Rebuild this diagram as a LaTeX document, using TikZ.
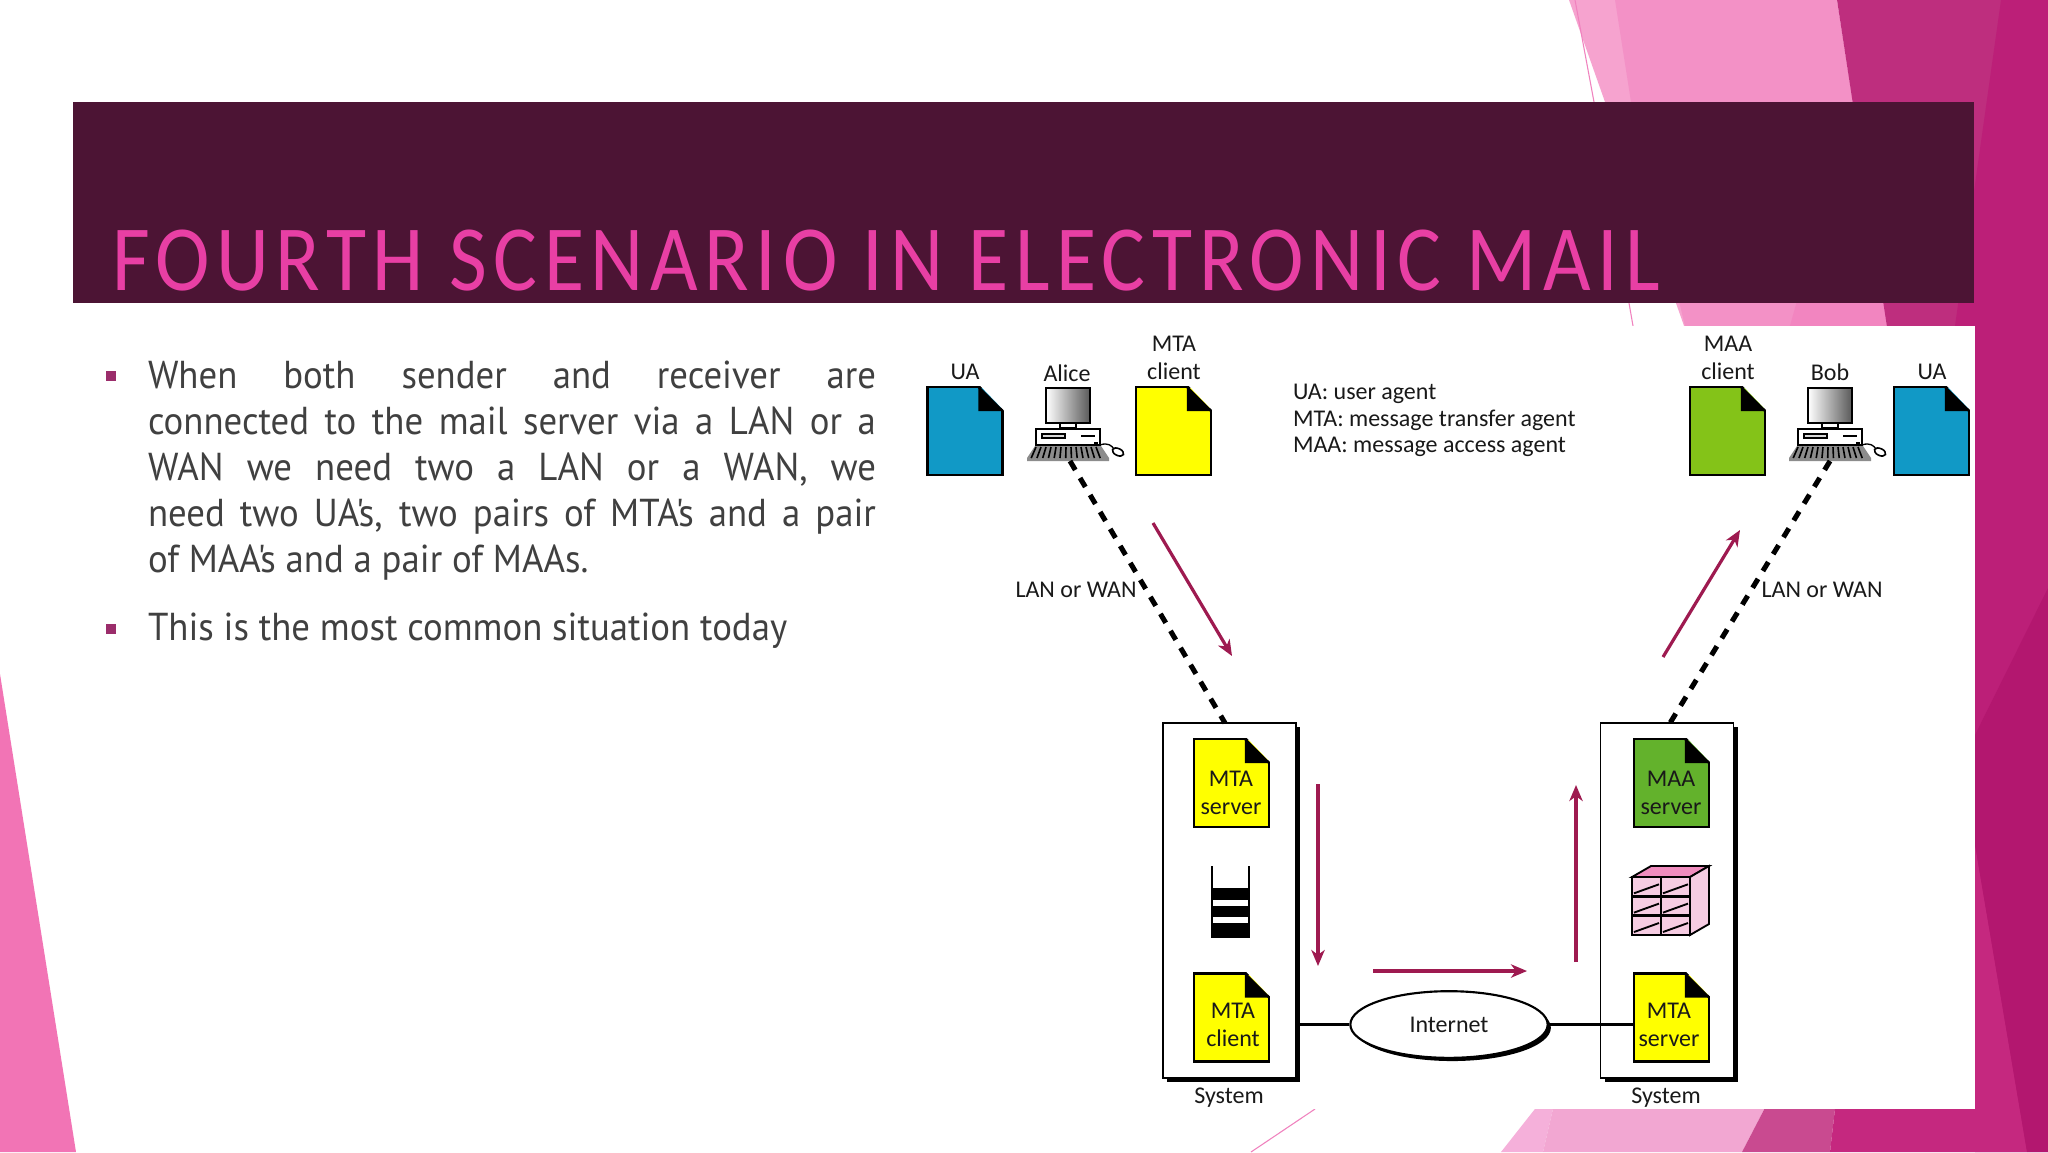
\documentclass[tikz,border=0pt]{standalone}
\usepackage{fontspec}
\usetikzlibrary{arrows.meta,calc,shadows,shapes.geometric}
\setmainfont{Carlito}
\newfontfamily\titlefont[LetterSpace=7.1,FakeStretch=0.88,Ligatures=NoCommon]{Carlito}
\newfontfamily\bodyfont[FakeStretch=0.945,Ligatures=NoCommon]{PT Sans}

\definecolor{bannerdark}{HTML}{4C1434}
\definecolor{titlepink}{HTML}{E83FA4}
\definecolor{bodygrey}{HTML}{404040}
\definecolor{bulletred}{HTML}{9B2D6B}
\definecolor{arrowred}{HTML}{9E1A50}
\definecolor{uablue}{HTML}{1199C6}
\definecolor{docyellow}{HTML}{FFFF00}
\definecolor{clientgreen}{HTML}{84C318}
\definecolor{servergreen}{HTML}{63B22C}
\definecolor{shelfpink}{HTML}{F6CCE2}
\definecolor{lidpink}{HTML}{F08CBE}

\tikzset{every picture/.style={line width=0.75pt}}
\tikzset{
  docfile/.style={draw=black,line width=0.9pt,minimum width=28.1pt,minimum height=33pt,inner sep=0pt,outer sep=0pt},
  systembox/.style={draw=black,fill=white,line width=0.7pt,minimum width=49.9pt,minimum height=133.1pt,inner sep=0pt,outer sep=0pt,
    drop shadow={shadow xshift=1.6pt,shadow yshift=-1.6pt,opacity=1,fill=black}},
  lbl/.style={inner sep=0pt,font=\fontsize{9}{10.6}\selectfont,text=black!90},
  redarrow/.style={draw=arrowred,line width=1.2pt,-{Stealth[length=6pt,width=5pt,inset=1.8pt]}},
  lanline/.style={line width=1.9pt,dash pattern=on 3.9pt off 3.5pt},
  bodytext/.style={anchor=north west,inner sep=0pt,text width=273pt,align=justify,text=bodygrey,
    font=\bodyfont\fontsize{14.6}{17.25}\selectfont},
  bulletmark/.style={fill=bulletred,minimum size=4.1pt,inner sep=0pt},
  computer/.pic={
    \draw[line width=0.9pt,left color=white,right color=black!65] (-22,0) rectangle (22,35);
    \draw[line width=0.6pt,fill=white] (-8,35) rectangle (8,40);
    \draw[line width=0.7pt,fill=white] (-32,41) rectangle (32,57);
    \draw[line width=0.5pt,fill=black!15] (-26,46) rectangle (-3,50);
    \fill (13,47) rectangle (27,49);
    \fill (26,54) rectangle (30,57);
    \fill[black!45] (-33,58) -- (33,58) -- (41,70) -- (41,73) -- (-41,73) -- (-41,70) -- cycle;
    \foreach \keyx in {-32,-27,...,32}
      {\draw[line width=0.6pt] (\keyx,59) -- (\keyx*1.15,70);}
    \draw[line width=0.5pt] (32,57) .. controls (40,54) and (44,58) .. (46,61);
    \draw[line width=0.6pt,fill=white,rotate around={25:(50,64)}] (50,64) ellipse (6 and 3.5);
  }
}
\newcommand{\docfold}[1]{%
  \fill[white] ($(#1.north east)+(-23,-2)$) -- ($(#1.north east)+(2,-2)$) -- ($(#1.north east)+(2,24)$) -- cycle;
  \fill[black] ($(#1.north east)+(-24,0)$) -- ($(#1.north east)+(0.5,24)$) -- ($(#1.north east)+(-24,24)$) -- cycle;
  \draw[line width=0.9pt] ($(#1.north east)+(-24,0)$) -- ($(#1.north east)+(0,24)$);
}

\begin{document}
\begin{tikzpicture}[x=0.375pt,y=0.375pt,yscale=-1]
\useasboundingbox (0,0) rectangle (2048,1152);
%Slide background
\fill[white] (0,0) rectangle (2048,1152);
\fill[fill={rgb,255:red,242;green,116;blue,181}] (0,674) -- (76,1152) -- (0,1152) -- cycle;
%Top right corner
\fill[fill={rgb,255:red,246;green,163;blue,207}] (1569,0) -- (1620,0) -- (1690,340) -- (1689,340) -- cycle;
\fill[fill={rgb,255:red,243;green,145;blue,198}] (1615,0) -- (1837,0) -- (1890,340) -- (1685,326) -- (1631,102) -- cycle;
\fill[fill={rgb,255:red,242;green,133;blue,192}] (1800,290) -- (1900,290) -- (1900,340) -- (1786,340) -- cycle;
\fill[fill={rgb,255:red,190;green,46;blue,126}] (1837,0) -- (2048,0) -- (2048,340) -- (1889,340) -- cycle;
\fill[fill={rgb,255:red,188;green,31;blue,120}] (2001,0) -- (2048,0) -- (2048,1152) -- (1975,1152) -- (1975,340) -- (1953,340) -- cycle;
\draw[line width=0.4pt,draw={rgb,255:red,240;green,130;blue,190}] (1575,0) -- (1594,102) -- (1633,326);
%Bottom right corner
\fill[fill={rgb,255:red,245;green,176;blue,218}] (1501,1152) -- (1542,1100) -- (1555,1100) -- (1543,1152) -- cycle;
\fill[fill={rgb,255:red,242;green,167;blue,210}] (1543,1152) -- (1555,1100) -- (1769,1100) -- (1742,1152) -- cycle;
\fill[fill={rgb,255:red,201;green,74;blue,144}] (1742,1152) -- (1769,1100) -- (1836,1100) -- (1830,1152) -- cycle;
\fill[fill={rgb,255:red,197;green,40;blue,127}] (1830,1152) -- (1836,1100) -- (1975,1100) -- (1975,845) -- (2027,1152) -- cycle;
\fill[fill={rgb,255:red,179;green,23;blue,111}] (2048,588) -- (1975,735) -- (1975,845) -- (2027,1152) -- (2048,1152) -- cycle;
\draw[line width=0.4pt,draw={rgb,255:red,240;green,130;blue,190}] (1315,1109) -- (1251,1152);
%Banner and panel
\fill[bannerdark] (73,102) rectangle (1974,303);
\fill[white] (920,326) rectangle (1975,1109);

% Title
\node[anchor=base west,inner sep=0pt,text=titlepink,font=\titlefont\fontsize{35}{40}\selectfont] (slideTitle) at (111,290) {FOURTH SCENARIO IN ELECTRONIC MAIL};

% Bullets
\node[bulletmark] (bulletOne) at (111,376) {};
\node[bodytext] (bodyOne) at (147,360) {When both sender and receiver are\linebreak connected to the mail server via a LAN or a\linebreak WAN we need two a LAN or a WAN, we\linebreak need two UA'\kern-2pt s, two pairs of MTA'\kern-2pt s and a pair\linebreak of MAA'\kern-2pt s and a pair of MAAs.};
\node[bulletmark] (bulletTwo) at (111,629) {};
\node[bodytext] (bodyTwo) at (147,612) {This is the most common situation today};

%Documents
\node[systembox] (sysLeft) at (1229.5,900.5) {};
\node[systembox] (sysRight) at (1667,900.5) {};
\node[docfile,fill=uablue] (uaLeft) at (965,431) {};
\node[docfile,fill=docyellow] (mtaClientTop) at (1173.5,431) {};
\node[docfile,fill=clientgreen] (maaClient) at (1727.5,431) {};
\node[docfile,fill=uablue] (uaRight) at (1931.5,431) {};
\node[docfile,fill=docyellow] (mtaServerLeft) at (1231.5,783) {};
\node[docfile,fill=docyellow] (mtaClientLeft) at (1231.5,1017.5) {};
\node[docfile,fill=servergreen] (maaServer) at (1671.5,783) {};
\node[docfile,fill=docyellow] (mtaServerRight) at (1671.5,1017.5) {};
\foreach \docname in {uaLeft,mtaClientTop,maaClient,uaRight,mtaServerLeft,mtaClientLeft,maaServer,mtaServerRight}
  {\docfold{\docname}}

%Computers
\pic[yscale=-1] at (1068,388) {computer};
\pic[yscale=-1] at (1830,388) {computer};

%Queue
\draw[line width=0.9pt] (1212,866) -- (1212,937) -- (1249,937) -- (1249,866);
\fill (1212,888) rectangle (1249,900);
\fill (1212,906) rectangle (1249,917);
\fill (1212,923) rectangle (1249,937);

%Mailbox cabinet
\draw[line width=0.7pt,fill=shelfpink] (1632,877) rectangle (1690,935);
\draw[line width=0.7pt,fill=lidpink] (1632,877) -- (1651,866) -- (1709,866) -- (1690,877) -- cycle;
\draw[line width=0.7pt,fill=shelfpink] (1690,877) -- (1709,866) -- (1709,924) -- (1690,935) -- cycle;
\foreach \shelfy in {896.3,915.6}
  {\draw[line width=0.9pt] (1632,\shelfy) -- (1690,\shelfy);}
\draw[line width=0.9pt] (1661,877) -- (1661,935);
\foreach \shelfy in {896.3,915.6,935} {
  \draw[line width=0.7pt] (1634,\shelfy-3) -- (1659,\shelfy-12);
  \draw[line width=0.7pt] (1663,\shelfy-3) -- (1688,\shelfy-12);
}

%Internet
\node[ellipse,draw=black,fill=white,line width=0.8pt,minimum width=74pt,minimum height=25pt,inner sep=0pt,
  drop shadow={shadow xshift=1.2pt,shadow yshift=-1.2pt,opacity=1,fill=black},lbl] (internet) at (1449,1024.5) {Internet};
\draw[line width=0.8pt] (internet.west) -- (internet.west -| sysLeft.east);
\draw[line width=0.8pt] (internet.east) -- (internet.east -| mtaServerRight.west);

%Lines to the computers
\coordinate (alicePc) at (1070,461);
\coordinate (bobPc) at (1830,461);
\coordinate (sysLeftTop) at (1225,723);
\coordinate (sysRightTop) at (1670,723);
\draw[lanline] (alicePc) -- (sysLeftTop);
\draw[lanline] (bobPc) -- (sysRightTop);

%Flow arrows
\coordinate (flowA) at (1153,523); \coordinate (flowB) at (1232,656);
\coordinate (flowC) at (1318,784); \coordinate (flowD) at (1318,966);
\coordinate (flowE) at (1373,971); \coordinate (flowF) at (1527,971);
\coordinate (flowG) at (1576,962); \coordinate (flowH) at (1576,785);
\coordinate (flowI) at (1663,657); \coordinate (flowJ) at (1740,530);
\draw[redarrow] (flowA) -- (flowB);
\draw[redarrow] (flowC) -- (flowD);
\draw[redarrow] (flowE) -- (flowF);
\draw[redarrow] (flowG) -- (flowH);
\draw[redarrow] (flowI) -- (flowJ);

% Text Node
\node[lbl] (uaLeftLbl) at (965,372) {UA};
\node[lbl] (aliceLbl) at (1067,373) {Alice};
\node[lbl,align=center] (mtaClientTopLbl) at (1174,358) {MTA\\client};
\node[lbl,align=center] (maaClientLbl) at (1728,358) {MAA\\client};
\node[lbl] (bobLbl) at (1830,372) {Bob};
\node[lbl] (uaRightLbl) at (1932,372) {UA};
\node[lbl,align=center] (mtaServerLeftLbl) at (1231,793) {MTA\\server};
\node[lbl,align=center] (mtaClientLeftLbl) at (1233,1025) {MTA\\client};
\node[lbl,align=center] (maaServerLbl) at (1671,793) {MAA\\server};
\node[lbl,align=center] (mtaServerRightLbl) at (1669,1025) {MTA\\server};
\node[lbl] (sysLeftLbl) at (1229,1098) {System};
\node[lbl] (sysRightLbl) at (1666,1098) {System};
\node[lbl] (lanLeftLbl) at (1076,590) {LAN or WAN};
\node[lbl] (lanRightLbl) at (1822,590) {LAN or WAN};
\node[lbl,anchor=west] (legendUa) at (1292,394) {UA: user agent};
\node[lbl,anchor=west] (legendMta) at (1292,420) {MTA: message transfer agent};
\node[lbl,anchor=west] (legendMaa) at (1292,447) {MAA: message access agent};

\end{tikzpicture}
\end{document}
